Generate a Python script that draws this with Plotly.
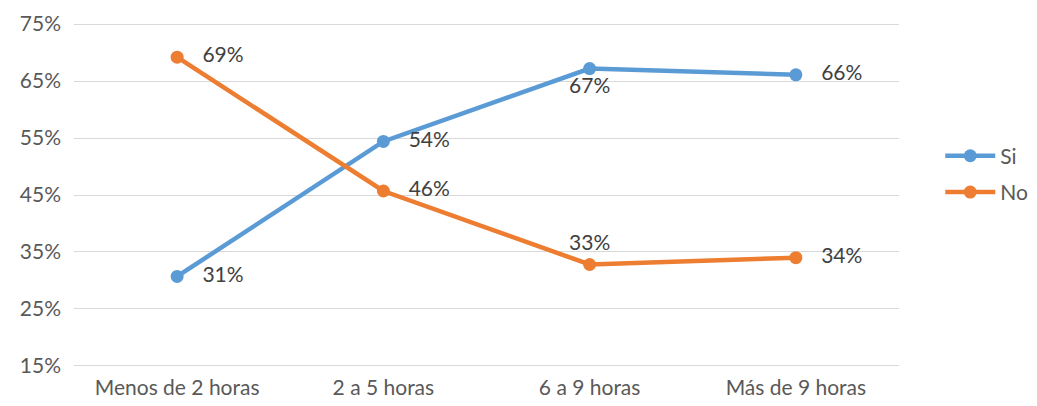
import plotly.graph_objects as go

categorias = ['Menos de 2 horas', '2 a 5 horas', '6 a 9 horas', 'Más de 9 horas']
si = [0.307, 0.544, 0.672, 0.661]
no = [0.692, 0.457, 0.328, 0.340]

pos_si = ['middle right', 'middle right', 'bottom center', 'middle right']
pos_no = ['middle right', 'middle right', 'top center', 'middle right']


def plantilla(posiciones):
    return ['   %{y:.0%}' if p == 'middle right' else '%{y:.0%}' for p in posiciones]


fuente = 'Lato, Open Sans, sans-serif'

trace1 = go.Scatter(x=categorias, y=si, name='Si', mode='lines+markers+text',
                    legendgroup='si',
                    line=dict(color='#5B9BD5', width=4.5),
                    marker=dict(size=13, color='#5B9BD5'),
                    texttemplate=plantilla(pos_si), textposition=pos_si,
                    textfont=dict(size=21, color='#404040', family=fuente),
                    cliponaxis=False)
trace2 = go.Scatter(x=categorias, y=no, name='No', mode='lines+markers+text',
                    legendgroup='no',
                    line=dict(color='#ED7D31', width=4.5),
                    marker=dict(size=13, color='#ED7D31'),
                    texttemplate=plantilla(pos_no), textposition=pos_no,
                    textfont=dict(size=21, color='#404040', family=fuente),
                    cliponaxis=False)

fig = go.Figure(data=[trace1, trace2])
fig.update_layout(
    width=1037, height=406,
    margin=dict(l=66, r=137, t=13, b=45),
    plot_bgcolor='white', paper_bgcolor='white',
    font=dict(family=fuente, size=21, color='#595959'),
    legend=dict(x=1.05, y=0.56, yanchor='middle', xanchor='left',
                font=dict(size=21, color='#595959'), itemwidth=50,
                traceorder='grouped', tracegroupgap=6),
    xaxis=dict(range=[-0.5, 3.5], showgrid=False, showline=False, zeroline=False,
               ticks='', ticklabelstandoff=4, automargin=False),
    yaxis=dict(range=[0.1445, 0.7555], tickvals=[0.15, 0.25, 0.35, 0.45, 0.55, 0.65, 0.75],
               tickformat='.0%', gridcolor='#D9D9D9', gridwidth=1.3, zeroline=False,
               showline=False, ticks='', ticklabelstandoff=12, automargin=False),
)

fig.write_html("out.html")
